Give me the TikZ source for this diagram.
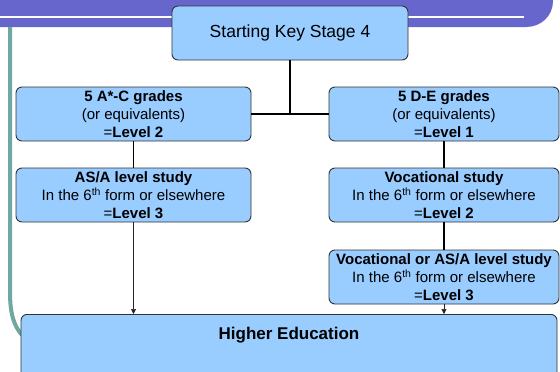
\documentclass[tikz,border=0pt]{standalone}
\usepackage{fontspec}
\setmainfont{Liberation Sans}
\usetikzlibrary{arrows.meta}
\definecolor{banner}{HTML}{6666CC}
\definecolor{teal2}{HTML}{6FA8A0}
\definecolor{boxfill}{HTML}{99CCFF}
\tikzset{
  box/.style={draw=black!80, line width=0.9pt, fill=boxfill, rounded corners=6pt,
    align=center, inner sep=0pt, font=\fontsize{15}{18}\selectfont},
  link/.style={line width=1.8pt, black},
  arr/.style={line width=0.6pt, black!85, -{Triangle[length=5pt,width=5pt]}}
}
\begin{document}
\begin{tikzpicture}[x=1pt,y=-1pt]
\useasboundingbox (0,0) rectangle (560,372);
\clip (0,0) rectangle (560,372);
% background decoration
\fill[banner] (0,-10) -- (553,-10) -- (553,1) .. controls (553,16) and (541,27) .. (526,27) -- (0,27) -- cycle;
\fill[white] (0,15.5) rectangle (524,17.5);
\draw[teal2, line width=4pt] (10,27) -- (10,292) .. controls (10,314) and (14,326) .. (22,335);
% nodes
\node[box, minimum width=236pt, minimum height=54pt, font=\fontsize{17.5}{20}\selectfont] (start) at (290,33) {Starting Key Stage 4};
\node[box, minimum width=235pt, minimum height=54pt] (ac) at (133.5,114) {\textbf{5 A*-C grades}\\(or equivalents)\\=\textbf{Level 2}};
\node[box, minimum width=230pt, minimum height=54pt] (de) at (444,114) {\textbf{5 D-E grades}\\(or equivalents)\\=\textbf{Level 1}};
\node[box, minimum width=235pt, minimum height=54pt] (asa) at (133.5,195) {\textbf{AS/A level study}\\In the 6\textsuperscript{th} form or elsewhere\\=\textbf{Level 3}};
\node[box, minimum width=230pt, minimum height=54pt] (voc) at (444,195) {\textbf{Vocational study}\\In the 6\textsuperscript{th} form or elsewhere\\=\textbf{Level 2}};
\node[box, minimum width=230pt, minimum height=54pt] (vocas) at (444,277) {\textbf{Vocational or AS/A level study}\\In the 6\textsuperscript{th} form or elsewhere\\=\textbf{Level 3}};
\node[box, anchor=north, minimum width=536pt, inner ysep=13pt, text height=12pt, text depth=50pt, font=\fontsize{17}{20}\selectfont\bfseries] (he) at (289,314) {Higher Education};
% connectors
\draw[link] (ac.east) -- (de.west);
\draw[link] (start.south) -- (start.south |- ac.east);
\draw[link] (ac.south) -- (asa.north);
\draw[link] (de.south) -- (voc.north);
\draw[link] (voc.south) -- (vocas.north);
\draw[arr] (asa.south) -- (asa.south |- he.north);
\draw[arr] (vocas.south) -- (vocas.south |- he.north);
\end{tikzpicture}
\end{document}
